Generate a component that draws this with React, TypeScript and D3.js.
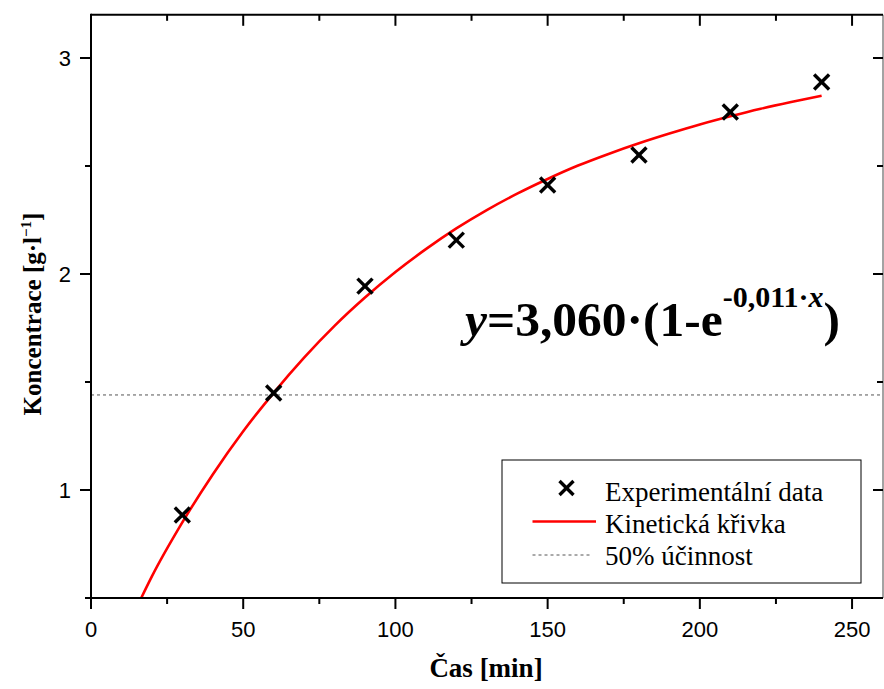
import React from "react";
import * as d3 from "d3";

// Experimental data
const timeMin = [30, 60, 90, 120, 150, 180, 210, 240];
const concentration = [0.884, 1.449, 1.944, 2.157, 2.412, 2.551, 2.75, 2.889];

// Kinetic curve
const curveX = [16.5, 20, 30, 40, 50, 60, 70, 80, 90, 100, 110, 120, 130, 140, 150, 160, 170, 180, 190, 200, 210, 220, 230, 240];
const curveY = [0.5, 0.6, 0.85, 1.072, 1.272, 1.45, 1.613, 1.76, 1.891, 2.009, 2.115, 2.211, 2.296, 2.372, 2.44, 2.502, 2.556, 2.605, 2.65, 2.692, 2.73, 2.765, 2.796, 2.825];

// 50% line
const halfLevel = [1.44];

const xMajor = [0, 50, 100, 150, 200, 250];
const xMinor = [25, 75, 125, 175, 225];
const yMajor = [1, 2, 3];
const yMinor = [0.5, 1.5, 2.5];

const legendLabels = ["Experimentální data", "Kinetická křivka", "50% účinnost"];

const W = 884;
const H = 689;
const L = 91;
const R = 883;
const T = 14.8;
const B = 598;

export default function App() {
  const x = d3.scaleLinear().domain([0, 260]).range([L, R - 0.5]);
  const y = d3.scaleLinear().domain([0.5, 3.2]).range([B, T]);

  const line = d3
    .line<number>()
    .x((_, i) => x(curveX[i]))
    .y((d) => y(d))
    .curve(d3.curveMonotoneX);

  const serif = "'Liberation Serif', 'Times New Roman', serif";
  const sans = "'Liberation Sans', Arial, sans-serif";

  const cross = (cx: number, cy: number, s: number, key?: any) => (
    <g key={key} stroke="#000" strokeWidth={3.4}>
      <line x1={cx - s} y1={cy - s} x2={cx + s} y2={cy + s} />
      <line x1={cx - s} y1={cy + s} x2={cx + s} y2={cy - s} />
    </g>
  );

  return (
    <svg width={W} height={H} style={{ position: "absolute", left: 0, top: 0 }}>
      <rect x={0} y={0} width={W} height={H} fill="#fff" />

      {/* dashed 50% line */}
      {halfLevel.map((v, i) => (
        <line key={i} x1={L} x2={R} y1={y(v)} y2={y(v)} stroke="#555" strokeWidth={1} strokeDasharray="3,3" />
      ))}

      {/* kinetic curve */}
      <path d={line(curveY) || ""} fill="none" stroke="#ff0000" strokeWidth={2.6} />

      {/* markers */}
      {timeMin.map((t, i) => cross(x(t), y(concentration[i]), 7.5, i))}

      {/* frame */}
      <line x1={R} x2={R} y1={T} y2={B} stroke="#666" strokeWidth={1.2} />
      <line x1={L} x2={R} y1={T} y2={T} stroke="#000" strokeWidth={2} />
      <line x1={L} x2={L} y1={T - 1} y2={B + 1} stroke="#000" strokeWidth={2} />
      <line x1={L - 6} x2={R} y1={B} y2={B} stroke="#000" strokeWidth={2} />

      {/* bottom / top ticks */}
      {xMajor.map((v) => (
        <g key={"xb" + v}>
          <line x1={x(v)} x2={x(v)} y1={B} y2={B + 11} stroke="#000" strokeWidth={2} />
          <line x1={x(v)} x2={x(v)} y1={T} y2={T + 11} stroke="#000" strokeWidth={2} />
          <text x={x(v)} y={637} textAnchor="middle" fontFamily={sans} fontSize={22} fill="#000">
            {v}
          </text>
        </g>
      ))}
      {xMinor.map((v) => (
        <g key={"xm" + v}>
          <line x1={x(v)} x2={x(v)} y1={B} y2={B + 6} stroke="#000" strokeWidth={2} />
          <line x1={x(v)} x2={x(v)} y1={T} y2={T + 6} stroke="#000" strokeWidth={2} />
        </g>
      ))}

      {/* left / right ticks */}
      {yMajor.map((v) => (
        <g key={"yb" + v}>
          <line x1={L - 11} x2={L} y1={y(v)} y2={y(v)} stroke="#000" strokeWidth={2} />
          <line x1={R - 10} x2={R} y1={y(v)} y2={y(v)} stroke="#000" strokeWidth={2} />
          <text x={71} y={y(v) + 8} textAnchor="end" fontFamily={sans} fontSize={22} fill="#000">
            {v}
          </text>
        </g>
      ))}
      {yMinor.map((v) => (
        <g key={"ym" + v}>
          <line x1={L - 6} x2={L} y1={y(v)} y2={y(v)} stroke="#000" strokeWidth={2} />
          <line x1={R - 6} x2={R} y1={y(v)} y2={y(v)} stroke="#000" strokeWidth={2} />
        </g>
      ))}

      {/* axis titles */}
      <text x={486} y={677} textAnchor="middle" fontFamily={serif} fontWeight="bold" fontSize={27} fill="#000">
        Čas [min]
      </text>
      <text
        transform="translate(41,314) rotate(-90)"
        textAnchor="middle"
        fontFamily={serif}
        fontWeight="bold"
        fontSize={25}
        fill="#000"
      >
        Koncentrace [g·l
        <tspan dy={-10} fontSize={15}>−1</tspan>
        <tspan dy={10}>]</tspan>
      </text>

      {/* equation */}
      <text x={465} y={336} fontFamily={serif} fontWeight="bold" fontSize={49.5} fill="#000">
        <tspan fontStyle="italic">y</tspan>
        <tspan>=3,060·(1-e</tspan>
        <tspan dy={-29} fontSize={30}>-0,011·</tspan>
        <tspan fontSize={30} fontStyle="italic">x</tspan>
        <tspan dy={29}>)</tspan>
      </text>

      {/* legend */}
      <rect x={502} y={460} width={359} height={123} fill="#fff" stroke="#000" strokeWidth={1} />
      {cross(566.5, 488, 7, "lg")}
      <line x1={532.5} x2={596} y1={521.5} y2={521.5} stroke="#ff0000" strokeWidth={2.6} />
      <line x1={532.5} x2={592} y1={555} y2={555} stroke="#555" strokeWidth={1} strokeDasharray="3,3" />
      {legendLabels.map((lab, i) => (
        <text key={lab} x={605} y={501 + i * 32} fontFamily={serif} fontSize={27} fill="#000">
          {lab}
        </text>
      ))}
    </svg>
  );
}
